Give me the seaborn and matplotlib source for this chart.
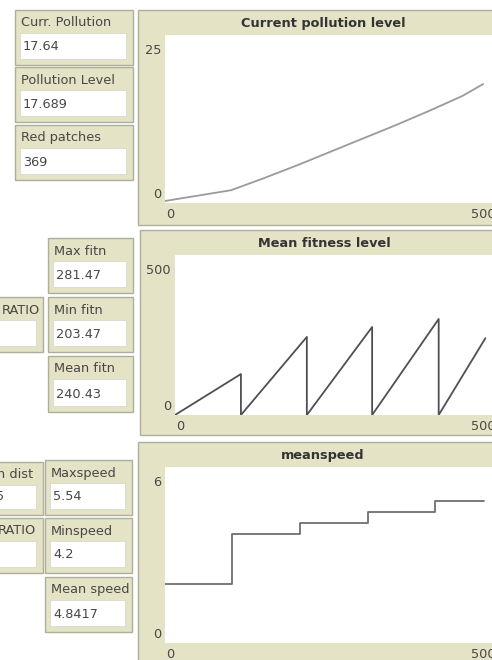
import matplotlib
matplotlib.use("Agg")
import matplotlib.pyplot as plt
import seaborn as sns
from matplotlib.patches import Rectangle

sns.set_theme(style="white")
plt.rcParams["font.family"] = ["DejaVu Sans"]

# -------------------------------
# DATA
# -------------------------------
poll_ticks = [0, 50, 100, 150, 200, 250, 300, 350, 400, 450, 482]
poll_vals = [0.3, 1.1, 1.9, 3.7, 5.6, 7.6, 9.6, 11.6, 13.7, 15.9, 17.7]

fit_ticks = [0, 103, 103, 206, 206, 308, 308, 412, 412, 485]
fit_vals = [0, 128, 0, 244, 0, 275, 0, 300, 0, 240]

speed_ticks = [0, 101, 101, 205, 205, 307, 307, 409, 409, 483]
speed_vals = [2.0, 2.0, 3.7, 3.7, 4.1, 4.1, 4.47, 4.47, 4.84, 4.84]

monitor_labels = ["Curr. Pollution", "Pollution Level", "Red patches",
                  "Max fitn", "RATIO", "Min fitn", "Mean fitn",
                  "Mean dist", "Maxspeed", "RATIO", "Minspeed", "Mean speed"]
monitor_values = ["17.64", "17.689", "369",
                  "281.47", "", "203.47", "240.43",
                  "5", "5.54", "", "4.2", "4.8417"]

plot_titles = ["Current pollution level", "Mean fitness level", "meanspeed"]
plot_ymax = [25, 500, 6]
plot_xmax = 500

W, H = 492, 660
BEIGE = "#e4e3c5"
EDGE = "#aeae9c"
TXT = "#474747"
FS = 9.3

fig = plt.figure(figsize=(W / 100, H / 100), dpi=100)
fig.patch.set_facecolor("white")


def fx(x):
    return x / W


def fy(y):
    return 1 - y / H


def box(x0, y0, x1, y1, fc, ec=EDGE, lw=1.0):
    fig.patches.append(Rectangle((fx(x0), fy(y1)), fx(x1) - fx(x0), (y1 - y0) / H,
                                 transform=fig.transFigure, facecolor=fc,
                                 edgecolor=ec, linewidth=lw, zorder=0))


def monitor(x0, y0, x1, y1, label, value, lab_x=None):
    box(x0, y0, x1, y1, BEIGE)
    box(x0 + 5, y0 + 23, x1 - 7, y1 - 6, "white", ec="#d8d8cc", lw=0.6)
    if lab_x is None:
        fig.text(fx(x0 + 6), fy(y0 + 13), label, fontsize=FS, color=TXT, va="center", ha="left")
        fig.text(fx(x0 + 8), fy(y1 - 18), value, fontsize=FS, color=TXT, va="center", ha="left")
    else:
        # monitor cut by the left edge of the screenshot
        fig.text(fx(lab_x), fy(y0 + 13), label, fontsize=FS, color=TXT, va="center", ha="right")
        fig.text(fx(4), fy(y1 - 18), value, fontsize=FS, color=TXT, va="center", ha="right")


# -------------------------------
# MONITORS
# -------------------------------
mon_boxes = [(15, 10, 133, 65), (15, 67, 133, 122), (15, 125, 133, 180),
             (48, 238, 133, 293), (-10, 297, 43, 352), (48, 297, 133, 352), (48, 356, 133, 412),
             (-10, 462, 43, 515), (45, 460, 132, 515), (-10, 518, 43, 573), (45, 518, 132, 573),
             (45, 577, 132, 632)]
label_x = [None, None, None, None, 40, None, None, 33, None, 36, None, None]
for (x0, y0, x1, y1), lab, val, lx in zip(mon_boxes, monitor_labels, monitor_values, label_x):
    monitor(x0, y0, x1, y1, lab, val, lx)

# -------------------------------
# PLOTS
# -------------------------------
frames = [(138, 10, 500, 225), (140, 230, 500, 435), (138, 442, 500, 668)]
areas = [(165, 35, 495, 203), (175, 255, 495, 415), (165, 467, 495, 643)]
series = [(poll_ticks, poll_vals, "#9a9a9a"),
          (fit_ticks, fit_vals, "#505050"),
          (speed_ticks, speed_vals, "#6e6e6e")]

for frame, area, title, ymax, (xs, ys, col) in zip(frames, areas, plot_titles, plot_ymax, series):
    box(*frame, BEIGE)
    x0, y0, x1, y1 = area
    fig.text(fx((frame[0] + 492) / 2 + 8), fy(frame[1] + 14), title, fontsize=FS,
             fontweight="bold", color="#333333", ha="center", va="center")
    ax = fig.add_axes([fx(x0), fy(y1), fx(x1) - fx(x0), (y1 - y0) / H])
    ax.set_zorder(5)
    ax.set_facecolor("white")
    sns.lineplot(x=xs, y=ys, ax=ax, color=col, lw=1.3, estimator=None, sort=False)
    ax.set_xlim(0, plot_xmax)
    ax.set_ylim(0, ymax)
    ax.set_xticks([])
    ax.set_yticks([])
    for s in ax.spines.values():
        s.set_visible(False)
    # tick labels NetLogo style
    fig.text(fx(x0 - 4), fy(y0 + 15), str(ymax), fontsize=FS, color=TXT, ha="right", va="center")
    fig.text(fx(x0 - 4), fy(y1 - 9), "0", fontsize=FS, color=TXT, ha="right", va="center")
    fig.text(fx(x0 + 1), fy(y1 + 11), "0", fontsize=FS, color=TXT, ha="left", va="center")
    fig.text(fx(x1 + 1), fy(y1 + 11), str(plot_xmax), fontsize=FS, color=TXT, ha="right", va="center")

plt.savefig("out.png", dpi=100)
